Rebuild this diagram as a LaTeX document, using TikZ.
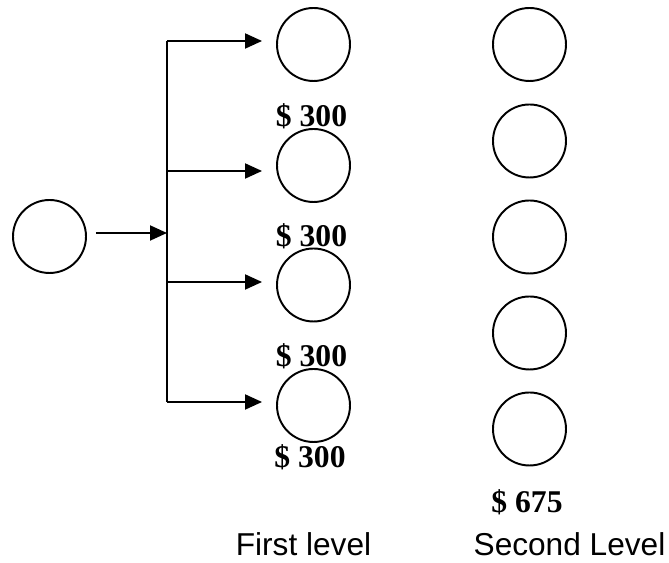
\documentclass[tikz,border=0pt]{standalone}
\usepackage{fontspec}
\setmainfont{Liberation Serif}
\setsansfont{Liberation Sans}
\usetikzlibrary{arrows.meta,calc}
\tikzset{
  statenode/.style={circle,draw,line width=1.1pt,minimum size=1.46cm,inner sep=0pt},
  amt/.style={anchor=base,font=\bfseries\fontsize{18}{18}\selectfont},
  lvl/.style={anchor=base,inner sep=0pt,font=\sffamily\fontsize{18}{18}\selectfont},
  flow/.style={line width=1.1pt,-{Triangle[length=0.34cm,width=0.3cm]}}
}
\begin{document}
\begin{tikzpicture}
    \useasboundingbox (0,0) rectangle (13.38,11.26);
    % states
    \node[statenode] (s0) at (0.99,6.53) {};
    \foreach \i/\y in {1/10.37,2/7.95,3/5.56,4/3.15}
        \node[statenode] (f\i) at (6.27,\y) {};
    \foreach \i/\y in {1/10.37,2/8.44,3/6.52,4/4.6,5/2.68}
        \node[statenode] (t\i) at (10.59,\y) {};
    % branching
    \coordinate (j) at (3.34,6.6);
    \foreach \i/\y in {1/10.44,2/7.84,3/5.62,4/3.22}
        \coordinate (b\i) at (3.34,\y);
    \draw[flow] ($(s0.east |- j)+(0.18,0)$) -- (j);
    \draw[line width=1.1pt] (b1) -- (b4);
    \foreach \i in {1,...,4}
        \draw[flow] (b\i) -- ($(b\i -| f\i.west)+(-0.28,0)$);
    % amounts
    \node[amt] (p1) at (6.23,8.72) {\$ 300};
    \node[amt] (p2) at (6.23,6.32) {\$ 300};
    \node[amt] (p3) at (6.23,3.92) {\$ 300};
    \node[amt] (p4) at (6.2,1.9) {\$ 300};
    \node[amt] (q) at (10.54,1.0) {\$ 675};
    % levels
    \node[lvl] (l1) at (6.07,0.15) {First level};
    \node[lvl] (l2) at (11.39,0.15) {Second Level};
\end{tikzpicture}
\end{document}
